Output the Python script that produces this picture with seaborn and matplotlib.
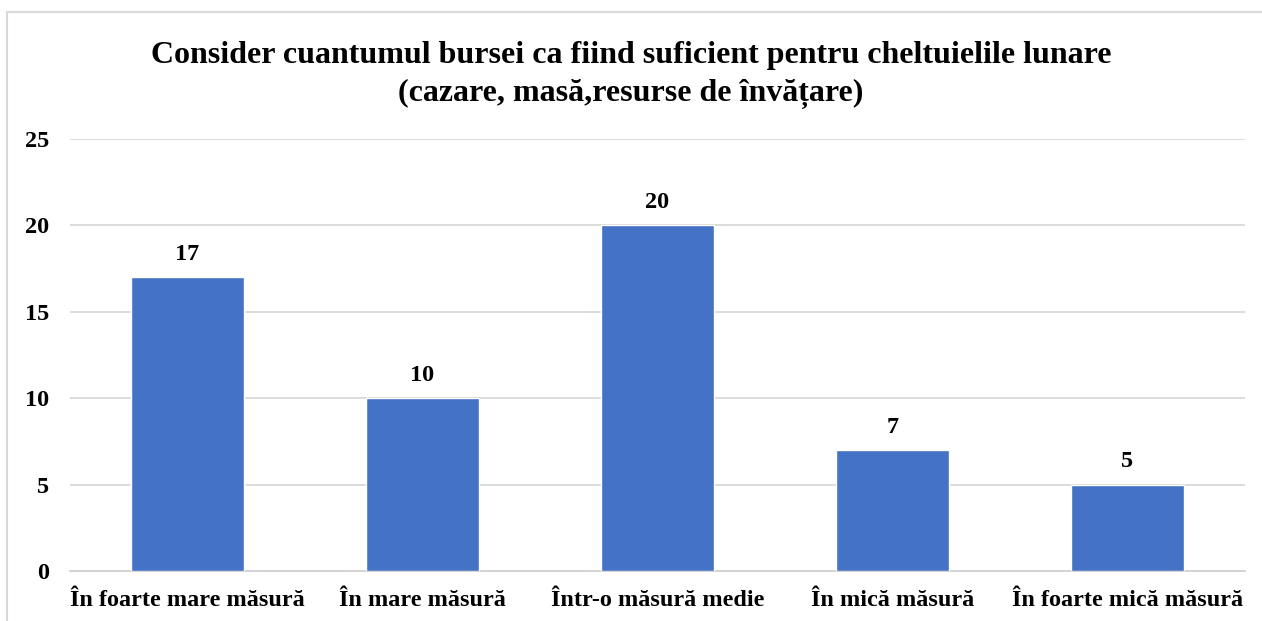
import matplotlib
matplotlib.use("Agg")
import matplotlib.pyplot as plt
import seaborn as sns
import pandas as pd
from matplotlib.patches import Rectangle

categories = ["În foarte mare măsură", "În mare măsură", "Într-o măsură medie",
              "În mică măsură", "În foarte mică măsură"]
values = [17, 10, 20, 7, 5]
yticks = [0, 5, 10, 15, 20, 25]
title = "Consider cuantumul bursei ca fiind suficient pentru cheltuielile lunare\n(cazare, masă,resurse de învățare)"

sns.set_theme(style="white")
plt.rcParams['font.family'] = ['Liberation Serif', 'DejaVu Serif']
plt.rcParams['font.weight'] = 'bold'

df = pd.DataFrame({"cat": categories, "val": values})

fig = plt.figure(figsize=(12.62, 6.21), dpi=100)
ax = fig.add_axes([70/1262, 1-571/621, (1245-70)/1262, (571-139)/621])

sns.barplot(data=df, x="cat", y="val", color="#4472C4", saturation=1,
            width=0.48, ax=ax, zorder=3)

ax.set_ylim(0, 25)
ax.set_yticks(yticks)
ax.set_yticklabels([str(t) for t in yticks], fontsize=17.5, fontweight='bold', color='black')
ax.yaxis.grid(True, color='#d9d9d9', linewidth=1.3, zorder=0)
ax.set_axisbelow(True)
for s in ['top', 'right', 'left']:
    ax.spines[s].set_visible(False)
ax.spines['bottom'].set_color('#d0d0d0')
ax.spines['bottom'].set_linewidth(1.3)
ax.tick_params(axis='y', length=0, pad=15)
ax.tick_params(axis='x', which='major', length=0, pad=14)
ax.set_xticks([i - 0.5 for i in range(len(categories) + 1)], minor=True)
ax.tick_params(axis='x', which='minor', length=7, width=1.3, color='#d0d0d0', direction='out')
ax.set_xticklabels(categories, fontsize=17.5, fontweight='bold', color='black')
ax.set_xlim(-0.5, len(categories) - 0.5)
ax.set_xlabel("")
ax.set_ylabel("")

for c in ax.containers:
    labels = ax.bar_label(c, padding=9, fontsize=17.5, fontweight='bold', color='black')
    for t in labels:
        t.set_bbox(dict(facecolor='white', edgecolor='none', pad=3))

fig.text(0.5, 1-75/621, title, ha='center', va='center', fontsize=23,
         fontweight='bold', color='black', linespacing=1.4)

fig.patches.append(Rectangle((7/1262, -0.5), 2, 0.5 + (1-12/621), transform=fig.transFigure,
                             fill=False, edgecolor='#d9d9d9', linewidth=1.5, zorder=0))

fig.savefig("out.png", dpi=100, facecolor='white')
